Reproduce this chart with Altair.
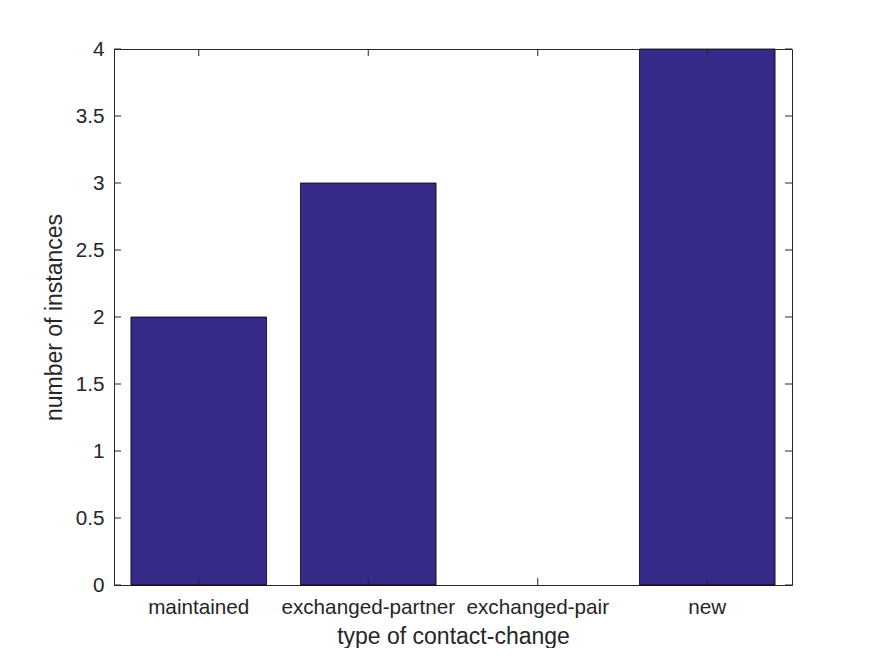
import altair as alt
import pandas as pd

categories = ["maintained", "exchanged-partner", "exchanged-pair", "new"]
counts = [2, 3, 0, 4]
y_ticks = [0, 0.5, 1, 1.5, 2, 2.5, 3, 3.5, 4]

bar_color = "#352a87"
ink = "#262626"
font = "Liberation Sans"
W, H = 678, 536
TL = 7

df = pd.DataFrame({"cat": categories, "value": counts})
df_cat = pd.DataFrame({"cat": categories})
df_y = pd.DataFrame({"value": y_ticks})

xenc = alt.X(
    "cat:N",
    sort=categories,
    scale=alt.Scale(paddingInner=0.2, paddingOuter=0.1),
    axis=alt.Axis(
        title="type of contact-change",
        labelAngle=0,
        tickSize=0,
        labelPadding=12,
        labelFontSize=20.7,
        titleFontSize=23,
        titlePadding=9,
        labelColor=ink,
        titleColor=ink,
        domainColor=ink,
        titleFontWeight="normal",
        labelFont=font,
        titleFont=font,
    ),
)
yscale = alt.Scale(domain=[0, 4], nice=False)
yenc = alt.Y(
    "value:Q",
    scale=yscale,
    axis=alt.Axis(
        title="number of instances",
        values=y_ticks,
        format="~g",
        tickSize=0,
        grid=False,
        labelPadding=10,
        labelFontSize=20.7,
        titleFontSize=23,
        titlePadding=9,
        labelColor=ink,
        titleColor=ink,
        domainColor=ink,
        titleFontWeight="normal",
        labelFont=font,
        titleFont=font,
    ),
)

bars = alt.Chart(df).transform_filter("datum.value > 0").mark_bar(
    color=bar_color, stroke="black", strokeWidth=0.8
).encode(x=xenc, y=yenc)

xt_bottom = alt.Chart(df_cat).mark_rule(color=ink, strokeWidth=1).encode(
    x=alt.X("cat:N", sort=categories), y=alt.value(H), y2=alt.value(H - TL)
)
xt_top = alt.Chart(df_cat).mark_rule(color=ink, strokeWidth=1).encode(
    x=alt.X("cat:N", sort=categories), y=alt.value(0), y2=alt.value(TL)
)
yt_left = alt.Chart(df_y).mark_rule(color=ink, strokeWidth=1).encode(
    y=alt.Y("value:Q", scale=yscale), x=alt.value(0), x2=alt.value(TL)
)
yt_right = alt.Chart(df_y).mark_rule(color=ink, strokeWidth=1).encode(
    y=alt.Y("value:Q", scale=yscale), x=alt.value(W - TL), x2=alt.value(W)
)

chart = (
    alt.layer(bars, xt_bottom, xt_top, yt_left, yt_right)
    .properties(
        width=W,
        height=H,
        autosize=alt.AutoSizeParams(type="none"),
        padding={"left": 106, "top": 41, "right": 70, "bottom": 63},
        background="white",
    )
    .configure_view(stroke=ink, strokeWidth=1)
)

chart.save("out.html", embed_options={"renderer": "svg", "actions": False})
